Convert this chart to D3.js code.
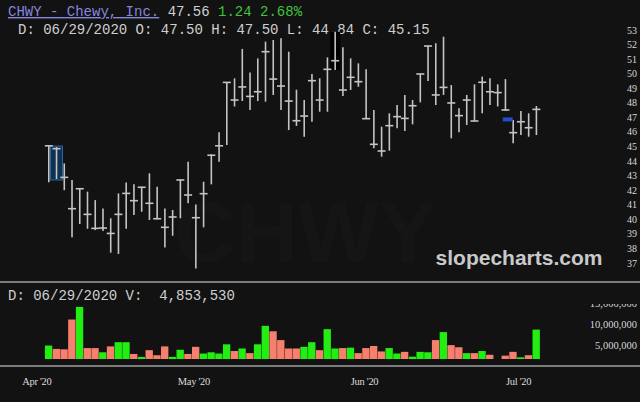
<!DOCTYPE html>
<html>
<head>
<meta charset="utf-8">
<script src="https://cdn.jsdelivr.net/npm/d3@7"></script>
<style>
  body { margin: 0; background: #121212; }
  svg { display: block; }
</style>
</head>
<body>
<svg width="640" height="402"></svg>
<script>
'use strict';

// daily bars, one per trading day (oldest first)
var highs = [45.05, 44.96, 43.84, 42.7, 42.13, 41.9, 41.32, 40.75, 40.07, 41.78,
    42.52, 42.4, 42.24, 43.16, 42.24, 40.75, 40.64, 42.74, 43.96, 41.01,
    42.58, 44.46, 45.97, 49.41, 49.68, 51.7, 50.09, 51.05, 52.2, 52.31,
    52.43, 51.51, 48.9, 48.19, 49.98, 49.68, 51.12, 52.88, 51.81, 51.05,
    50.71, 50.3, 47.51, 46.36, 47.28, 47.85, 48.54, 48.19, 49.98, 51.92,
    52.09, 52.54, 49.22, 47.62, 48.54, 49.27, 49.8, 49.68, 49.27, 49.63,
    46.82, 47.44, 47.28, 47.78];
var lows = [42.54, 42.77, 42.0, 38.76, 39.68, 39.35, 39.26, 39.2, 37.71, 37.62,
    39.35, 40.29, 40.52, 39.95, 40.0, 38.07, 38.87, 40.07, 41.1, 36.63,
    39.45, 42.4, 43.96, 45.1, 47.75, 48.12, 47.51, 48.12, 48.08, 48.54,
    47.51, 46.13, 46.41, 45.67, 46.7, 47.39, 47.39, 50.25, 48.47, 48.88,
    49.1, 46.91, 44.88, 44.3, 44.71, 46.25, 46.06, 46.52, 48.03, 49.5,
    47.85, 48.54, 45.56, 45.97, 46.48, 46.75, 47.28, 47.85, 47.75, 47.44,
    45.22, 45.79, 45.67, 45.79];
var closes = [45.05, 44.85, 42.88, 40.73, 42.1, 40.34, 39.38, 39.4, 39.03, 40.34,
    41.78, 41.28, 42.2, 41.1, 40.04, 39.45, 40.16, 42.7, 41.67, 40.11,
    41.76, 44.4, 45.05, 49.4, 48.19, 49.09, 48.44, 48.76, 51.51, 49.63,
    49.15, 48.12, 46.77, 47.09, 49.52, 48.19, 50.3, 50.89, 48.88, 49.75,
    49.45, 46.91, 45.15, 44.69, 46.43, 47.05, 46.93, 47.8, 49.98, 51.9,
    48.54, 49.06, 47.99, 47.12, 48.19, 46.75, 49.41, 48.76, 48.7, 47.51,
    45.95, 46.7, 46.29, 47.55];
// volume in millions of shares
var volumes = [3.2, 2.4, 2.3, 9.4, 12.4, 2.6, 2.6, 1.6, 3.0, 4.0,
    4.0, 1.2, 0.5, 2.1, 0.9, 3.0, 0.5, 2.2, 1.2, 2.9,
    1.3, 1.6, 1.3, 3.5, 1.9, 2.5, 1.4, 3.5, 7.9, 6.6,
    4.5, 2.5, 2.5, 2.9, 4.0, 2.1, 7.1, 2.5, 2.6, 2.7,
    1.4, 2.6, 3.1, 1.8, 2.6, 1.3, 1.7, 0.55, 1.7, 1.6,
    4.5, 6.4, 3.3, 2.8, 1.4, 1.4, 1.9, 1.0, 0, 0.8,
    1.7, 0.4, 0.9, 7.0];

var priceTicks = d3.range(37, 54);
var volumeTicks = [5, 10, 15];
var monthLabels = ["Apr '20", "May '20", "Jun '20", "Jul '20"];
var monthSlots = [-1.55, 18.75, 40.8, 60.7]; // where each month label sits, in bar index units

var bg = '#121212';
var svg = d3.select('svg');
svg.append('rect').attr('width', 640).attr('height', 402).attr('fill', bg);

var bars = closes.map(function (c, i) {
    return { i: i, high: highs[i], low: lows[i], close: c, vol: volumes[i],
        up: i === 0 ? true : c >= closes[i - 1] };
});

var x = d3.scaleLinear().domain([0, 63]).range([48.8, 536.4]);
var y = d3.scaleLinear().domain([37, 53]).range([263, 30]);
var yv = d3.scaleLinear().domain([0, 15]).range([359, 296]);

// faint background ticker
svg.append('text')
    .attr('x', 305).attr('y', 262)
    .attr('text-anchor', 'middle')
    .attr('font-family', 'Liberation Sans, Arial, sans-serif')
    .attr('font-weight', 'bold')
    .attr('font-size', 86)
    .attr('fill', '#151515')
    .text('CHWY');

// header
var mono = 'Liberation Mono, Courier New, monospace';
var head = svg.append('text').attr('x', 8).attr('y', 16)
    .attr('font-family', mono).attr('font-size', 14).attr('xml:space', 'preserve');
head.append('tspan').attr('fill', '#8585dc').attr('text-decoration', 'underline').text('CHWY - Chewy, Inc.');
head.append('tspan').attr('fill', '#d0d0d0').text(' 47.56 ');
head.append('tspan').attr('fill', '#3ec43e').text('1.24 2.68%');

svg.append('text').attr('x', 18).attr('y', 34)
    .attr('font-family', mono).attr('font-size', 14).attr('fill', '#cfcfcf')
    .attr('xml:space', 'preserve')
    .text('D: 06/29/2020 O: 47.50 H: 47.50 L: 44.84 C: 45.15');

// highlight boxes
svg.append('rect')
    .attr('x', x(1) - 6).attr('y', y(bars[1].high) - 1)
    .attr('width', 12).attr('height', y(bars[1].low) - y(bars[1].high) + 2)
    .attr('fill', '#10314f').attr('stroke', '#2a68a6').attr('stroke-width', 1);
svg.append('rect')
    .attr('x', x(37) - 5).attr('y', y(bars[37].high))
    .attr('width', 10).attr('height', y(bars[37].low) - y(bars[37].high))
    .attr('fill', '#000');

// price axis labels
svg.append('g').selectAll('text').data(priceTicks).enter().append('text')
    .attr('x', 637).attr('y', function (d) { return y(d); })
    .attr('dy', '0.35em')
    .attr('text-anchor', 'end')
    .attr('font-family', 'Liberation Serif, Times New Roman, serif')
    .attr('font-size', 10)
    .attr('fill', '#d8d8d8')
    .text(function (d) { return d; });

// OHLC bars: high-low stem plus a cross tick at the close
var ohlc = svg.append('g').attr('stroke', '#c4c4c4').attr('stroke-width', 1.6);
ohlc.selectAll('line.stem').data(bars).enter().append('line')
    .attr('class', 'stem')
    .attr('x1', function (d) { return x(d.i); })
    .attr('x2', function (d) { return x(d.i); })
    .attr('y1', function (d) { return y(d.high); })
    .attr('y2', function (d) { return y(d.low); });
ohlc.selectAll('line.tick').data(bars).enter().append('line')
    .attr('class', 'tick')
    .attr('x1', function (d) { return x(d.i) - 4; })
    .attr('x2', function (d) { return x(d.i) + 4; })
    .attr('y1', function (d) { return y(d.close); })
    .attr('y2', function (d) { return y(d.close); });

// small blue marker
svg.append('rect')
    .attr('x', x(59.3) - 5).attr('y', y(46.86) - 2)
    .attr('width', 10).attr('height', 4)
    .attr('fill', '#1f4fd0');

// watermark
svg.append('text')
    .attr('x', 519).attr('y', 265)
    .attr('text-anchor', 'middle')
    .attr('font-family', 'Liberation Sans, Arial, sans-serif')
    .attr('font-weight', 'bold')
    .attr('font-size', 21)
    .attr('fill', '#c9c9c9')
    .text('slopecharts.com');

// panel separators
svg.selectAll('line.sep').data([282, 366]).enter().append('line')
    .attr('class', 'sep')
    .attr('x1', 0).attr('x2', 640)
    .attr('y1', function (d) { return d; }).attr('y2', function (d) { return d; })
    .attr('stroke', '#7c7c7c').attr('stroke-width', 2);

// volume panel
svg.append('text').attr('x', 8).attr('y', 300)
    .attr('font-family', mono).attr('font-size', 14).attr('fill', '#cfcfcf')
    .attr('xml:space', 'preserve')
    .text('D: 06/29/2020 V:  4,853,530');

svg.append('clipPath').attr('id', 'volclip')
    .append('rect').attr('x', 0).attr('y', 304).attr('width', 640).attr('height', 61);

svg.append('g').attr('clip-path', 'url(#volclip)')
    .selectAll('text').data(volumeTicks).enter().append('text')
    .attr('x', 637).attr('y', function (d) { return yv(d) + 7; })
    .attr('dy', '0.35em')
    .attr('text-anchor', 'end')
    .attr('font-family', 'Liberation Serif, Times New Roman, serif')
    .attr('font-size', 10.5)
    .attr('fill', '#d8d8d8')
    .text(function (d) { return d3.format(',')(d * 1e6); });

var bw = 7.74;
svg.append('g').selectAll('rect').data(bars.filter(function (d) { return d.vol > 0; }))
    .enter().append('rect')
    .attr('x', function (d) { return x(d.i) - bw / 2; })
    .attr('y', function (d) { return yv(d.vol); })
    .attr('width', bw - 0.4)
    .attr('height', function (d) { return yv(0) - yv(d.vol); })
    .attr('fill', function (d) { return d.up ? '#22ee11' : '#f77f6e'; });

// month labels
svg.append('g').selectAll('text').data(monthLabels).enter().append('text')
    .attr('x', function (d, i) { return x(monthSlots[i]); })
    .attr('y', 385)
    .attr('text-anchor', 'middle')
    .attr('font-family', 'Liberation Serif, Times New Roman, serif')
    .attr('font-size', 10.5)
    .attr('letter-spacing', -0.3)
    .attr('fill', '#dcdcdc')
    .text(function (d) { return d; });
</script>
</body>
</html>
